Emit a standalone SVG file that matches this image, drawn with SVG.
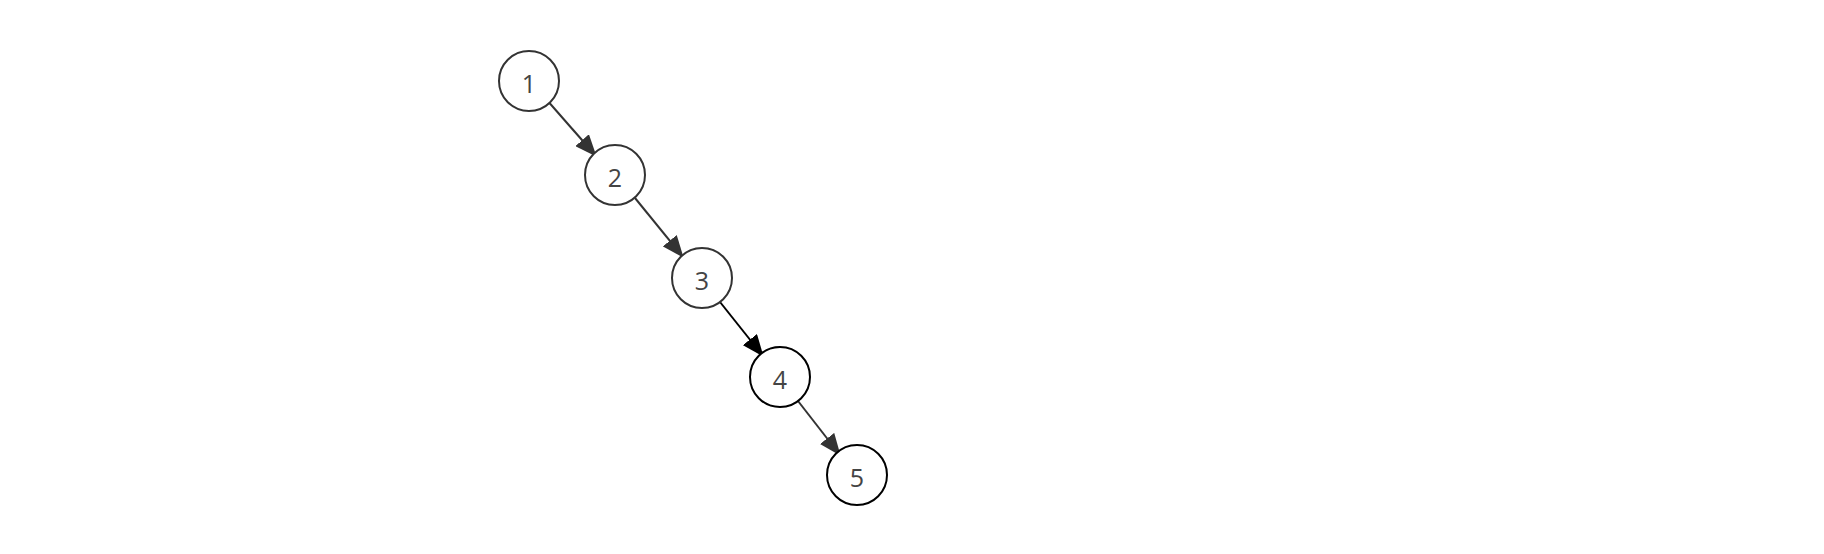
<svg xmlns="http://www.w3.org/2000/svg" width="1824" height="554" viewBox="0 0 1824 554">
<style>
.n circle{fill:#fff;stroke:#333;stroke-width:2}
.n.k circle{stroke:#000}
.n text{font-family:"Open Sans",sans-serif;font-size:25px;fill:#444;text-anchor:middle}
.e{stroke:#333;stroke-width:2;fill:none}
.e.k{stroke:#000}
</style>
<defs>
<marker id="a" viewBox="0 0 22 18" refX="21" refY="9" markerWidth="22" markerHeight="18" markerUnits="userSpaceOnUse" orient="auto"><path d="M0,0L22,9L0,18Z" fill="#333"/></marker>
<marker id="ak" viewBox="0 0 22 18" refX="21" refY="9" markerWidth="22" markerHeight="18" markerUnits="userSpaceOnUse" orient="auto"><path d="M0,0L22,9L0,18Z" fill="#000"/></marker>
</defs>
<rect width="1824" height="554" fill="#fff"/>
<g id="connectors">
<line class="e" x1="549.5" y1="103" x2="596" y2="156" marker-end="url(#a)"/>
<line class="e" x1="635" y1="198" x2="683" y2="257" marker-end="url(#a)"/>
<line class="e k" x1="720" y1="302" x2="763" y2="356" marker-end="url(#ak)"/>
<line class="e" x1="798" y1="401" x2="840" y2="455" marker-end="url(#a)"/>
</g>
<g id="node1" class="n"><circle cx="529" cy="81" r="30"/><text x="529" y="92.5">1</text></g>
<g id="node2" class="n"><circle cx="615" cy="175" r="30"/><text x="615" y="186.5">2</text></g>
<g id="node3" class="n"><circle cx="702" cy="278" r="30"/><text x="702" y="289.5">3</text></g>
<g id="node4" class="n k"><circle cx="780" cy="377" r="30"/><text x="780" y="388.5">4</text></g>
<g id="node5" class="n k"><circle cx="857" cy="475" r="30"/><text x="857" y="486.5">5</text></g>
</svg>
